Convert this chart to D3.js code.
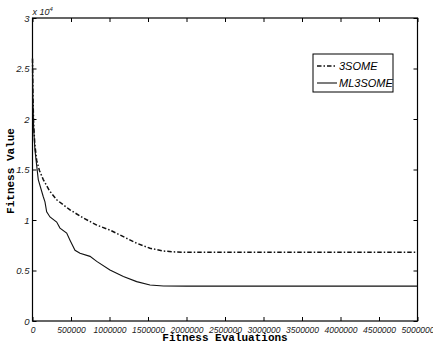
<!DOCTYPE html>
<html>
<head>
<meta charset="utf-8">
<script src="https://cdn.jsdelivr.net/npm/d3@7"></script>
<style>
  body { margin: 0; background: #fff; }
  svg { display: block; }
</style>
</head>
<body>
<svg width="433" height="345"></svg>
<script>
// Fitness evaluations vs fitness value
const evals3 = [0, 5000, 15000, 30000, 54500, 90000, 140000, 220000, 314000, 400000, 487000, 660000, 834000, 1006000, 1180000, 1353000, 1526000, 1700000, 1850000, 2000000, 5000000];
const vals3 = [26000, 22500, 19500, 17500, 15900, 14900, 14000, 12900, 12000, 11500, 11000, 10200, 9500, 9000, 8350, 7700, 7200, 6930, 6840, 6800, 6800];

const evalsML = [0, 5000, 15000, 32000, 75000, 140000, 162000, 184000, 227000, 314000, 357000, 444000, 487000, 552000, 617000, 747000, 834000, 1006000, 1180000, 1353000, 1526000, 1700000, 2000000, 5000000];
const valsML = [26000, 22000, 19000, 16900, 14000, 12300, 11800, 10800, 10300, 9800, 9200, 8700, 8000, 7000, 6700, 6400, 5900, 5050, 4400, 3900, 3560, 3460, 3450, 3450];

const xTicks = [0, 500000, 1000000, 1500000, 2000000, 2500000, 3000000, 3500000, 4000000, 4500000, 5000000];
const yTicks = [0, 5000, 10000, 15000, 20000, 25000, 30000];
const seriesNames = ["3SOME", "ML3SOME"];

const svg = d3.select("svg");
const margin = { top: 18, right: 15.5, bottom: 24, left: 32.5 };
const width = +svg.attr("width") - margin.left - margin.right;
const height = +svg.attr("height") - margin.top - margin.bottom;

const g = svg.append("g").attr("transform", `translate(${margin.left},${margin.top})`);

const x = d3.scaleLinear().domain([0, 5000000]).range([0, width]);
const y = d3.scaleLinear().domain([0, 30000]).range([height, 0]);

// frame
g.append("rect")
  .attr("width", width).attr("height", height)
  .attr("fill", "none").attr("stroke", "#000").attr("stroke-width", 1.2);

// bottom axis, ticks pointing in
const xAxis = g.append("g")
  .attr("transform", `translate(0,${height})`)
  .call(d3.axisBottom(x).tickValues(xTicks).tickSizeInner(-4).tickSizeOuter(0).tickPadding(6).tickFormat(d3.format("d")));
xAxis.select(".domain").remove();
xAxis.selectAll("text")
  .style("font", "italic 8.5px 'Liberation Sans', Arial, sans-serif")
  .attr("fill", "#222");

// top ticks
g.append("g")
  .call(d3.axisTop(x).tickValues(xTicks).tickSizeInner(-4).tickSizeOuter(0).tickFormat(""))
  .select(".domain").remove();

// left axis
const yAxis = g.append("g")
  .call(d3.axisLeft(y).tickValues(yTicks).tickSizeInner(-4).tickSizeOuter(0).tickPadding(3).tickFormat(d => d / 1e4));
yAxis.select(".domain").remove();
yAxis.selectAll("text")
  .style("font", "italic 9.5px 'Liberation Sans', Arial, sans-serif")
  .attr("fill", "#222");

// right ticks
g.append("g")
  .attr("transform", `translate(${width},0)`)
  .call(d3.axisRight(y).tickValues(yTicks).tickSizeInner(-4).tickSizeOuter(0).tickFormat(""))
  .select(".domain").remove();

// exponent label
const expo = svg.append("text")
  .attr("x", margin.left)
  .attr("y", 15)
  .style("font", "italic 9px 'Liberation Sans', Arial, sans-serif")
  .attr("fill", "#222");
expo.append("tspan").text("x 10");
expo.append("tspan").attr("dy", -4).style("font-size", "6px").text("4");

// lines
const line = d3.line().x(d => x(d[0])).y(d => y(d[1]));

g.append("path")
  .datum(d3.zip(evals3, vals3))
  .attr("d", line)
  .attr("fill", "none")
  .attr("stroke", "#111")
  .attr("stroke-width", 1.5)
  .attr("stroke-dasharray", "4.5,2,1.5,2");

g.append("path")
  .datum(d3.zip(evalsML, valsML))
  .attr("d", line)
  .attr("fill", "none")
  .attr("stroke", "#111")
  .attr("stroke-width", 1.1);

// axis labels
svg.append("text")
  .attr("x", 225)
  .attr("y", 341)
  .attr("text-anchor", "middle")
  .style("font", "bold 11px 'Liberation Mono', 'Courier New', monospace")
  .text("Fitness Evaluations");

svg.append("text")
  .attr("transform", "translate(14,171) rotate(-90)")
  .attr("text-anchor", "middle")
  .style("font", "bold 11px 'Liberation Mono', 'Courier New', monospace")
  .text("Fitness Value");

// legend
const legend = svg.append("g").attr("transform", "translate(313,54)");
legend.append("rect")
  .attr("width", 80).attr("height", 38)
  .attr("fill", "#fff").attr("stroke", "#000").attr("stroke-width", 1);

const legendRows = legend.selectAll(".row")
  .data(seriesNames)
  .enter().append("g")
  .attr("transform", (d, i) => `translate(0,${12 + i * 17})`);

legendRows.append("line")
  .attr("x1", 4).attr("x2", 24).attr("y1", 0).attr("y2", 0)
  .attr("stroke", "#111")
  .attr("stroke-width", (d, i) => i === 0 ? 1.5 : 1.1)
  .attr("stroke-dasharray", (d, i) => i === 0 ? "4.5,2,1.5,2" : null);

legendRows.append("text")
  .attr("x", 26)
  .attr("y", 4)
  .style("font", "italic 11px 'Liberation Sans', Arial, sans-serif")
  .text(d => d);
</script>
</body>
</html>
